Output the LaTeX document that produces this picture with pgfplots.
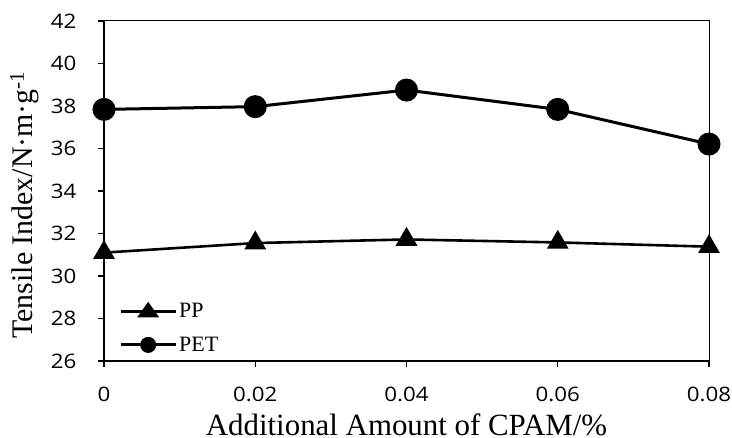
\documentclass[border=0pt]{standalone}
\usepackage{pgfplots}
\pgfplotsset{compat=1.18}
\usepackage{fontspec}
\setmainfont{Liberation Serif}
\newfontfamily\tickfont[FakeStretch=1.12]{Open Sans}
\begin{document}
\begin{tikzpicture}
\begin{axis}[
  scale only axis,
  width=605bp, height=340bp,
  xmin=0, xmax=0.08, ymin=26, ymax=42,
  xtick={0,0.02,0.04,0.06,0.08},
  xticklabels={0,0.02,0.04,0.06,0.08},
  scaled x ticks=false,
  ytick={26,28,...,42},
  axis x line*=bottom, axis y line*=left,
  axis line style={line width=1.6bp, -},
  tick style={line width=1.2bp, black},
  tick align=outside,
  major tick length=6bp,
  ticklabel style={font=\fontsize{20}{20}\selectfont\tickfont},
  /pgf/number format/assume math mode=true,
  xticklabel style={yshift=-17bp},
  yticklabel style={xshift=-18bp},
  xlabel={Additional Amount of CPAM/\%},
  ylabel={Tensile Index/N·m·g\textsuperscript{-1}},
  xlabel style={font=\fontsize{31}{31}\selectfont, at={(axis description cs:0.5,0)}, anchor=north, yshift=-53bp, inner sep=0pt, text depth=0pt},
  ylabel style={font=\fontsize{30}{30}\selectfont, at={(axis description cs:-0.101,0.459)}, anchor=south},
  legend style={draw=none, fill=none, at={(axis description cs:0,0)}, anchor=south west,
    xshift=12bp, yshift=4bp,
    font=\fontsize{22}{22}\selectfont, row sep=14bp},
  legend cell align=left,
  clip=false,
]
\addplot[black, line width=2.6bp, mark=triangle*, mark size=10bp, mark options={solid},
  legend image code/.code={\draw[black, line width=3bp] (0bp,0bp) -- (55bp,0bp);
    \fill[black] (27.5bp,7bp) -- (36bp,-5bp) -- (19bp,-5bp) -- cycle;}] coordinates {
 (0,31.10) (0.02,31.55) (0.04,31.72) (0.06,31.58) (0.08,31.38)};
\addlegendentry{PP}
\addplot[black, line width=3bp, mark=*, mark size=10bp,
  legend image code/.code={\draw[black, line width=3bp] (0bp,0bp) -- (55bp,0bp);
    \fill[black] (27.5bp,0bp) circle[radius=6.5bp];}] coordinates {
 (0,37.84) (0.02,37.97) (0.04,38.75) (0.06,37.84) (0.08,36.21)};
\addlegendentry{PET}
\draw[line width=1bp] (rel axis cs:0,1) -- (rel axis cs:1,1) -- (rel axis cs:1,0);
\coordinate (bl) at (rel axis cs:0,0);
\coordinate (tr) at (rel axis cs:1,1);
\end{axis}
\pgfresetboundingbox
\path[use as bounding box] ([shift={(-104bp,-76bp)}]bl) rectangle ([shift={(23bp,21bp)}]tr);
\end{tikzpicture}
\end{document}
